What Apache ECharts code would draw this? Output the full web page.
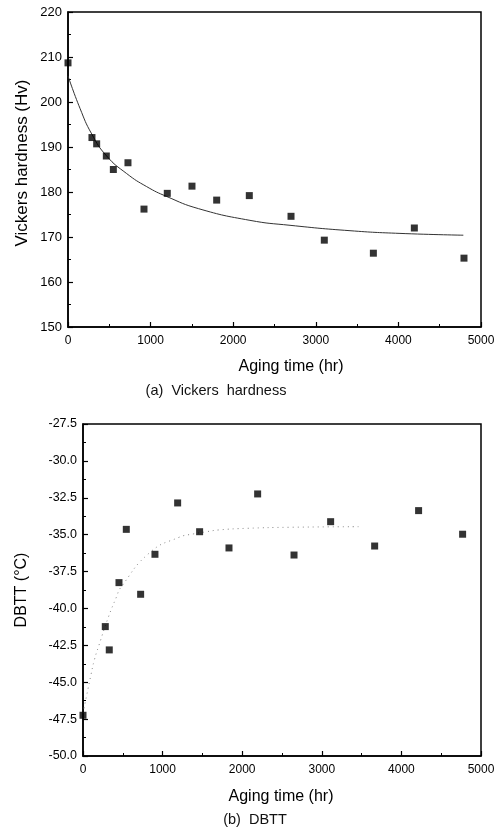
<!DOCTYPE html>
<html><head><meta charset="utf-8">
<script src="https://cdn.jsdelivr.net/npm/echarts@6/dist/echarts.min.js"></script>
<style>html,body{margin:0;padding:0;background:#fff}#c{width:500px;height:840px}</style>
</head><body><div id="c"></div>
<script>
// ---- Data (a) Vickers hardness ----
const hvTime = [0, 290, 347, 464, 549, 726, 920, 1202, 1501, 1800, 2195, 2700, 3103, 3697, 4193, 4794];
const hvValue = [208.7, 192.1, 190.7, 188.0, 185.0, 186.5, 176.2, 179.7, 181.3, 178.2, 179.2, 174.6, 169.3, 166.4, 172.0, 165.3];
const hvFitTime = [0, 145, 287, 468, 710, 952, 1195, 1580, 2203, 2688, 3414, 4019, 4786];
const hvFitValue = [205.8, 198.6, 192.9, 188.0, 184.1, 181.2, 179.0, 176.3, 173.7, 172.6, 171.4, 170.8, 170.4];
// ---- Data (b) DBTT ----
const dbttTime = [0, 280, 330, 452, 544, 724, 904, 1189, 1465, 1834, 2194, 2651, 3111, 3664, 4216, 4769];
const dbttValue = [-47.24, -41.23, -42.81, -38.25, -34.64, -39.04, -36.33, -32.85, -34.8, -35.9, -32.24, -36.38, -34.12, -35.77, -33.37, -34.97];
const dbttFitTime = [0, 46, 100, 142, 200, 318, 422, 472, 842, 1206, 1386, 1553, 1704, 2060, 2583, 3461];
const dbttFitValue = [-47.1, -45.9, -44.5, -43.5, -42.5, -40.6, -39.2, -38.6, -36.2, -35.18, -34.95, -34.8, -34.68, -34.57, -34.5, -34.46];
// ---- Axis labels / titles ----
const xTitle = 'Aging time (hr)';
const yTitleA = 'Vickers hardness (Hv)';
const yTitleB = 'DBTT (\u00B0C)';
const captionA = '(a)  Vickers  hardness';
const captionB = '(b)  DBTT';

const zip = (a, b) => a.map((v, i) => [v, b[i]]);
const FONT = "'Liberation Sans', Arial, sans-serif";
const chart = echarts.init(document.getElementById('c'), null, {renderer: 'canvas'});

function xAx(gi) {
  return {
    gridIndex: gi, type: 'value', min: 0, max: 5000, interval: 1000,
    axisLine: {lineStyle: {color: '#000', width: 1.5}},
    axisTick: {inside: true, length: 5, lineStyle: {color: '#000', width: 1.2}},
    minorTick: {show: true, splitNumber: 2, length: 3, lineStyle: {color: '#000', width: 1}},
    axisLabel: {color: '#000', fontSize: 12, fontFamily: FONT, margin: 8, formatter: v => String(v)},
    splitLine: {show: false}
  };
}
function yAx(gi, min, max, interval, fmt, fs) {
  return {
    gridIndex: gi, type: 'value', min: min, max: max, interval: interval,
    axisLine: {show: true, lineStyle: {color: '#000', width: 1.5}},
    axisTick: {show: true, inside: true, length: 5, lineStyle: {color: '#000', width: 1.2}},
    minorTick: {show: true, splitNumber: 2, length: 3, lineStyle: {color: '#000', width: 1}},
    axisLabel: {color: '#000', fontSize: fs, fontFamily: FONT, margin: 6, formatter: fmt},
    splitLine: {show: false}
  };
}

chart.setOption({
  animation: false,
  backgroundColor: '#fff',
  grid: [
    {left: 68, top: 12, width: 413, height: 315, show: true, borderColor: '#000', borderWidth: 1.5, backgroundColor: 'transparent'},
    {left: 83, top: 424, width: 398, height: 332, show: true, borderColor: '#000', borderWidth: 1.5, backgroundColor: 'transparent'}
  ],
  xAxis: [xAx(0), xAx(1)],
  yAxis: [
    yAx(0, 150, 220, 10, v => String(v), 13),
    yAx(1, -50, -27.5, 2.5, v => v.toFixed(1), 12.5)
  ],
  series: [
    {type: 'line', xAxisIndex: 0, yAxisIndex: 0, data: zip(hvFitTime, hvFitValue), smooth: 0.5, showSymbol: false,
     lineStyle: {color: '#333', width: 1}, z: 2},
    {type: 'scatter', xAxisIndex: 0, yAxisIndex: 0, data: zip(hvTime, hvValue), symbol: 'rect', symbolSize: 7,
     itemStyle: {color: '#000'}, z: 3},
    {type: 'line', xAxisIndex: 1, yAxisIndex: 1, data: zip(dbttFitTime, dbttFitValue), smooth: 0.5, showSymbol: false,
     lineStyle: {color: '#888', width: 1, type: [1, 4]}, z: 2},
    {type: 'scatter', xAxisIndex: 1, yAxisIndex: 1, data: zip(dbttTime, dbttValue), symbol: 'rect', symbolSize: 7,
     itemStyle: {color: '#000'}, z: 3}
  ],
  graphic: [
    {type: 'text', x: 22, y: 163, rotation: Math.PI / 2,
     style: {text: yTitleA, fontSize: 17, fontFamily: FONT, fill: '#000', align: 'center', verticalAlign: 'middle'}},
    {type: 'text', x: 291, y: 367,
     style: {text: xTitle, fontSize: 16, fontFamily: FONT, fill: '#000', align: 'center', verticalAlign: 'middle'}},
    {type: 'text', x: 216, y: 391,
     style: {text: captionA, fontSize: 14.5, fontFamily: FONT, fill: '#111', align: 'center', verticalAlign: 'middle'}},
    {type: 'text', x: 22, y: 590, rotation: Math.PI / 2,
     style: {text: yTitleB, fontSize: 16, fontFamily: FONT, fill: '#000', align: 'center', verticalAlign: 'middle'}},
    {type: 'text', x: 281, y: 797,
     style: {text: xTitle, fontSize: 16, fontFamily: FONT, fill: '#000', align: 'center', verticalAlign: 'middle'}},
    {type: 'text', x: 255, y: 820,
     style: {text: captionB, fontSize: 14.5, fontFamily: FONT, fill: '#111', align: 'center', verticalAlign: 'middle'}}
  ]
});
</script></body></html>
